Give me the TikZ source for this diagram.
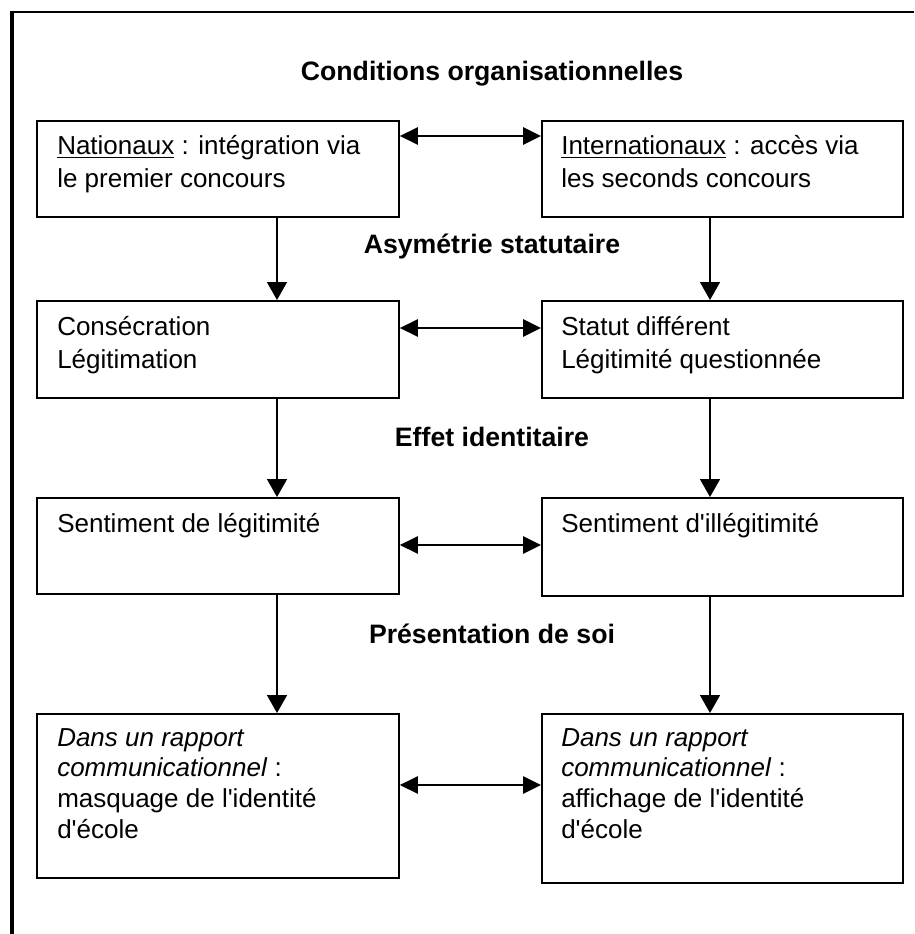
\documentclass[tikz,border=0pt]{standalone}
\usepackage{fontspec}
\setmainfont{Liberation Sans}
\usetikzlibrary{arrows.meta}
\begin{document}
\begin{tikzpicture}[x=0.75pt,y=-0.75pt,
  box/.style={draw, line width=1.4pt, rectangle, inner sep=0pt, anchor=north west},
  txt/.style={anchor=base west, align=left, inner sep=0pt, font=\fontsize{19.5pt}{24.75pt}\selectfont},
  txtb/.style={anchor=base west, align=left, inner sep=0pt, font=\fontsize{19.5pt}{23pt}\selectfont},
  lbl/.style={anchor=base, inner sep=0pt, font=\fontsize{20pt}{24pt}\selectfont\bfseries},
  varr/.style={line width=1.2pt, -{Triangle[length=13.5pt,width=15pt]}},
  harr/.style={line width=1.2pt, {Triangle[length=13.5pt,width=13pt]}-{Triangle[length=13.5pt,width=13pt]}},
  frameline/.style={line width=2.4pt}
]
\fill[white] (0,0) rectangle (914,934);
\useasboundingbox (0,0) rectangle (914,934);
% outer frame (left and top)
\draw[frameline, line width=2.8pt] (12,11) -- (12,934);
\draw[frameline, line width=2.2pt] (10.6,12) -- (914,12);

% boxes
\node[box, minimum width=271.5pt, minimum height=72pt] (L1) at (36,120) {};
\node[box, minimum width=270.75pt, minimum height=72pt] (R1) at (541,120) {};
\node[box, minimum width=271.5pt, minimum height=72.75pt] (L2) at (36,300) {};
\node[box, minimum width=270.75pt, minimum height=72.75pt] (R2) at (541,300) {};
\node[box, minimum width=271.5pt, minimum height=72pt] (L3) at (36,497) {};
\node[box, minimum width=270.75pt, minimum height=73.5pt] (R3) at (541,497) {};
\node[box, minimum width=271.5pt, minimum height=123pt] (L4) at (36,713) {};
\node[box, minimum width=270.75pt, minimum height=126.75pt] (R4) at (541,713) {};

% box texts (anchor = baseline of the last line)
\node[txt] (tL1) at ([shift={(21,68)}]L1.north west) {\underline{Nationaux} : intégration via\\le premier concours};
\node[txt] (tR1) at ([shift={(20,68)}]R1.north west) {\underline{Internationaux} : accès via\\les seconds concours};
\node[txt] (tL2) at ([shift={(21,68)}]L2.north west) {Consécration\\Légitimation};
\node[txt] (tR2) at ([shift={(20,68)}]R2.north west) {Statut différent\\Légitimité questionnée};
\node[txt] (tL3) at ([shift={(21,35)}]L3.north west) {Sentiment de légitimité};
\node[txt] (tR3) at ([shift={(20,35)}]R3.north west) {Sentiment d\textquotesingle illégitimité};
\node[txtb] (tL4) at ([shift={(21,125)}]L4.north west) {\textit{Dans un rapport}\\\textit{communicationnel} :\\masquage de l\textquotesingle identité\\d\textquotesingle école};
\node[txtb] (tR4) at ([shift={(20,125)}]R4.north west) {\textit{Dans un rapport}\\\textit{communicationnel} :\\affichage de l\textquotesingle identité\\d\textquotesingle école};

% section labels
\node[lbl] (c1) at (492,81) {Conditions organisationnelles};
\node[lbl] (c2) at (492,253) {Asymétrie statutaire};
\node[lbl] (c3) at (492,446) {Effet identitaire};
\node[lbl] (c4) at (492,643) {Présentation de soi};

% vertical arrows
\draw[varr] ([xshift=180.75pt]L1.south west) -- ([xshift=180.75pt]L2.north west);
\draw[varr] ([xshift=180.75pt]L2.south west) -- ([xshift=180.75pt]L3.north west);
\draw[varr] ([xshift=180.75pt]L3.south west) -- ([xshift=180.75pt]L4.north west);
\draw[varr] ([xshift=126.75pt]R1.south west) -- ([xshift=126.75pt]R2.north west);
\draw[varr] ([xshift=126.75pt]R2.south west) -- ([xshift=126.75pt]R3.north west);
\draw[varr] ([xshift=126.75pt]R3.south west) -- ([xshift=126.75pt]R4.north west);

% horizontal double arrows
\draw[harr] ([yshift=-12pt]L1.north east) -- ([yshift=-12pt]R1.north west);
\draw[harr] ([yshift=-21pt]L2.north east) -- ([yshift=-21pt]R2.north west);
\draw[harr] ([yshift=-36pt]L3.north east) -- ([yshift=-36pt]R3.north west);
\draw[harr] ([yshift=-54pt]L4.north east) -- ([yshift=-54pt]R4.north west);
\end{tikzpicture}
\end{document}
